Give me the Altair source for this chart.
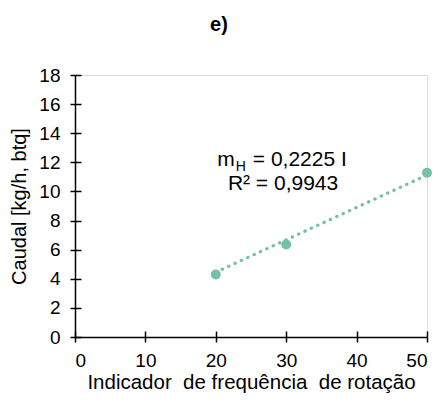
import altair as alt
import pandas as pd

# data
x_vals = [20, 30, 50]
y_vals = [4.3, 6.35, 11.28]
trend_x = [20, 50]
trend_y = [4.45, 11.13]
x_ticks = [0, 10, 20, 30, 40, 50]
y_ticks = [0, 2, 4, 6, 8, 10, 12, 14, 16, 18]

pts = pd.DataFrame({"x": x_vals, "y": y_vals})
trend = pd.DataFrame({"x": trend_x, "y": trend_y})
one = pd.DataFrame({"k": [0]})

FONT = "Liberation Sans"
GREEN = "#77C0A6"
INK = "#000000"

xscale = alt.Scale(domain=[0, 50], nice=False, zero=False)
yscale = alt.Scale(domain=[0, 18], nice=False)

xaxis = alt.Axis(values=x_ticks, title="Indicador\u00a0 de frequência\u00a0 de rotação",
                 grid=False, domainColor=INK, domainWidth=1.5, tickColor=INK,
                 tickWidth=1.5, tickSize=5, labelFont=FONT, labelFontSize=19,
                 labelColor=INK, labelPadding=9, titleFont=FONT, titleFontSize=20.5,
                 titleFontWeight="normal", titleColor=INK, titlePadding=2)
yaxis = alt.Axis(values=y_ticks, title="Caudal [kg/h, btq]",
                 grid=False, domainColor=INK, domainWidth=1.5, tickColor=INK,
                 tickWidth=1.5, tickSize=5, labelFont=FONT, labelFontSize=19,
                 labelColor=INK, labelPadding=10, titleFont=FONT, titleFontSize=20,
                 titleFontWeight="normal", titleColor=INK, titlePadding=9)

points = alt.Chart(pts).mark_circle(size=100, color=GREEN, opacity=1).encode(
    x=alt.X("x:Q", scale=xscale, axis=xaxis),
    y=alt.Y("y:Q", scale=yscale, axis=yaxis),
)

line = alt.Chart(trend).mark_line(color=GREEN, strokeWidth=3.2, strokeDash=[0.5, 6.5],
                                  strokeCap="round").encode(
    x=alt.X("x:Q", scale=xscale, axis=None),
    y=alt.Y("y:Q", scale=yscale, axis=None),
)

# annotation anchors (in data units)
eq_x, eq_y = 22.7, 11.78
r2_x, r2_y = 29.55, 10.13

def txt(label, x, y, align, size=21, dx=0, dy=0):
    return alt.Chart(one).mark_text(font=FONT, fontSize=size, color=INK, align=align,
                                    baseline="alphabetic", dx=dx, dy=dy).encode(
        x=alt.XDatum(x, scale=xscale, axis=None),
        y=alt.YDatum(y, scale=yscale, axis=None),
        text=alt.value(label),
    )

t1 = txt("m", eq_x, eq_y, "right")
t2 = txt("H", eq_x, eq_y, "left", size=14, dx=1, dy=5)
t3 = txt("= 0,2225 I", eq_x, eq_y, "left", dx=18)
t4 = txt("R² = 0,9943", r2_x, r2_y, "center")

inner = alt.Chart(pts).mark_point(opacity=0).encode(
    x=alt.X("x:Q", scale=xscale, axis=alt.Axis(values=x_ticks, orient="bottom", offset=-6,
            tickSize=6, tickWidth=1.5, tickColor=INK, labels=False, domain=False,
            grid=False, title=None)),
    y=alt.Y("y:Q", scale=yscale, axis=alt.Axis(values=y_ticks, orient="left", offset=-6,
            tickSize=6, tickWidth=1.5, tickColor=INK, labels=False, domain=False,
            grid=False, title=None)),
)

chart = alt.layer(points, line, t1, t2, t3, t4, inner).resolve_axis(
    x="independent", y="independent"
).properties(
    width=352, height=262,
    autosize=alt.AutoSizeParams(type="none"),
    padding={"left": 67, "top": 67, "right": 5, "bottom": 58},
    title=alt.TitleParams("e)", font=FONT, fontSize=20, fontWeight="bold", color=INK,
                          anchor="middle", dx=-32, offset=15, baseline="alphabetic"),
).configure_view(stroke=None).configure(background="white")

chart.save("out.html", embed_options={"renderer": "svg", "actions": False})
